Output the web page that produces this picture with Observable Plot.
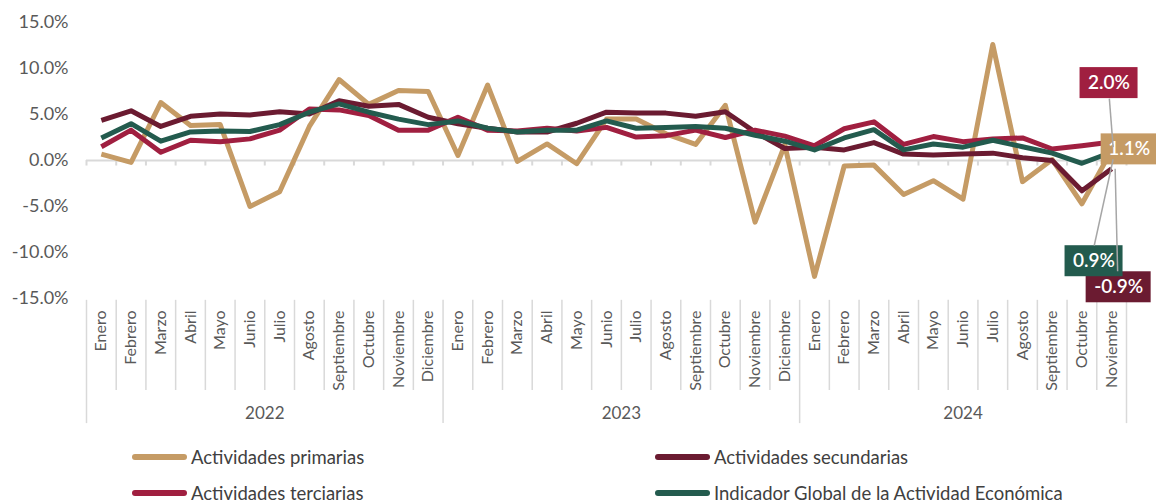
<!DOCTYPE html>
<html><head><meta charset="utf-8">
<script src="https://cdn.jsdelivr.net/npm/d3@7"></script>
<script src="https://cdn.jsdelivr.net/npm/@observablehq/plot@0.6"></script>
<style>
body{margin:0;background:#fff;font-family:Lato,sans-serif;}
#wrap{position:relative;width:1156px;height:502px;overflow:hidden;}
.leg{position:absolute;display:flex;align-items:center;font-size:18.5px;color:#404040;white-space:nowrap;height:24px;}
.leg .sw{display:inline-block;width:55px;height:6px;border-radius:3px;margin-right:4px;}
</style></head><body><div id="wrap"><div id="chart"></div><div id="legend"></div></div>
<script>
const monthNames = ["Enero","Febrero","Marzo","Abril","Mayo","Junio","Julio","Agosto","Septiembre","Octubre","Noviembre","Diciembre"];
const yearLabels = ["2022","2023","2024"];
const yearCounts = [12,12,11];
const yTicks = [-15,-10,-5,0,5,10,15];

const seriesNames = ["Actividades primarias","Actividades secundarias","Actividades terciarias","Indicador Global de la Actividad Económica"];
const seriesColors = ["#C59B65","#6B1B31","#A01F40","#235B4E"];

const primarias = [0.7,-0.2,6.3,3.8,3.9,-5.0,-3.4,3.7,8.8,6.1,7.6,7.5,
  0.55,8.2,-0.1,1.8,-0.35,4.5,4.5,2.9,1.75,6.0,-6.7,1.7,
  -12.6,-0.6,-0.5,-3.7,-2.2,-4.2,12.6,-2.3,0.1,-4.7,1.1];
const secundarias = [4.35,5.4,3.7,4.8,5.05,4.95,5.3,5.05,6.5,5.9,6.1,4.7,
  4.0,3.5,3.1,3.1,4.05,5.25,5.15,5.15,4.8,5.3,3.1,1.3,
  1.45,1.15,1.95,0.7,0.6,0.7,0.8,0.3,0.0,-3.3,-0.9];
const terciarias = [1.5,3.3,0.9,2.2,2.05,2.35,3.3,5.6,5.5,4.9,3.3,3.3,
  4.7,3.3,3.2,3.5,3.2,3.6,2.55,2.7,3.3,2.5,3.3,2.65,
  1.6,3.45,4.2,1.75,2.6,2.05,2.35,2.45,1.25,1.6,2.0];
const globalIGAE = [2.45,4.0,2.1,3.1,3.2,3.15,3.9,5.25,6.15,5.25,4.5,3.9,
  4.3,3.5,3.1,3.3,3.3,4.3,3.5,3.6,3.7,3.5,2.75,2.1,
  1.15,2.45,3.35,1.15,1.8,1.45,2.2,1.5,0.8,-0.3,0.9];
const seriesValues = [primarias, secundarias, terciarias, globalIGAE];

// month labels per year
const monthLabels = yearCounts.flatMap(n => monthNames.slice(0, n));
const N = monthLabels.length;

const W = 1156, H = 440, mL = 86, mR = 30, mT = 22, mB = 142;
const kx = (W - mL - mR) / N;       // px per month
const ky = (H - mT - mB) / 30;      // px per percentage point

const data = seriesNames.flatMap((s, k) => seriesValues[k].map((v, i) => ({serie: s, i, v})));
const idx = d3.range(N);
const bounds = d3.range(N + 1).map(i => i - 0.5);
let acc = 0;
const yearStarts = yearCounts.map(n => { const s = acc; acc += n; return s; });
const yearBounds = [...yearStarts.map(s => s - 0.5), N - 0.5];
const monthBounds = bounds.filter(b => !yearBounds.includes(b));
const years = yearLabels.map((y, j) => ({y, c: yearStarts[j] + (yearCounts[j] - 1) / 2}));

// label annotations (pixel offsets from last point): box center, box width, leader start/end
const annot = [
  {k:0, dx:17.5, dy:-1, w:56, leader:null},
  {k:1, dx:7, dy:118.5, w:65, leader:[3.5, 0, 6, 102.5]},
  {k:2, dx:-2.6, dy:-59, w:58, leader:[1.5, 5, -2.3, -43.5]},
  {k:3, dx:-17.6, dy:109, w:58, leader:[1.5, 7, -17.4, 93.3]}
];

const marks = [
  Plot.ruleY([0], {stroke:"#d9d9d9", strokeWidth:2}),
  Plot.ruleX(bounds, {y1:0, y2:-0.6, stroke:"#d9d9d9", strokeWidth:2}),
  Plot.ruleX(monthBounds, {y1:-15.2, y2:-25, stroke:"#d9d9d9", strokeWidth:1.5}),
  Plot.ruleX(yearBounds, {y1:-15.2, y2:-28.6, stroke:"#d9d9d9", strokeWidth:1.5}),
  Plot.axisY({ticks: yTicks, tickFormat: d => d.toFixed(1) + "%", tickSize:0, tickPadding:18, fontSize:18, fill:"#595959", label:null}),
  Plot.text(idx, {x: d => d, y: () => -16.3, text: d => monthLabels[d], rotate:-90, textAnchor:"end", fontSize:16, fill:"#595959"}),
  Plot.text(years, {x:"c", y: () => -27.5, text:"y", fontSize:17, fill:"#595959"}),
  Plot.line(data, {x:"i", y:"v", z:"serie", stroke:"serie", strokeWidth:5, strokeLinejoin:"round", strokeLinecap:"butt"})
];

const lastPts = annot.map(a => {
  const vals = seriesValues[a.k];
  return {...a, i: vals.length - 1, v: vals[vals.length - 1], label: vals[vals.length - 1].toFixed(1) + "%", serie: seriesNames[a.k]};
});
for (const p of lastPts) {
  marks.push(Plot.rect([p], {x1:"i", x2:"i", y1:"v", y2:"v", insetLeft:-p.w/2, insetRight:-p.w/2, insetTop:-15.5, insetBottom:-15.5, dx:p.dx, dy:p.dy, fill:"serie"}));
  marks.push(Plot.text([p], {x:"i", y:"v", text:"label", dx:p.dx, dy:p.dy, fill:"white", fontSize:19, fontWeight:600}));
}
for (const p of lastPts) {
  if (!p.leader) continue;
  const [x1, y1, x2, y2] = p.leader;
  marks.push(Plot.link([p], {x1: d => d.i + x1/kx, y1: d => d.v - y1/ky, x2: d => d.i + x2/kx, y2: d => d.v - y2/ky, stroke:"#a6a6a6", strokeWidth:1.5}));
}

const chart = Plot.plot({
  width: W, height: H,
  marginLeft: mL, marginRight: mR, marginTop: mT, marginBottom: mB,
  x: {type:"linear", domain:[-0.5, N - 0.5], axis:null},
  y: {domain:[-15, 15], axis:null},
  color: {domain: seriesNames, range: seriesColors},
  style: {fontFamily:"Lato, sans-serif", fontSize:"16px", color:"#595959", background:"white", overflow:"visible"},
  marks
});
document.getElementById("chart").appendChild(chart);

// legend
const legPos = [[132,445],[655,445],[132,481],[655,481]];
const leg = document.getElementById("legend");
seriesNames.forEach((s, k) => {
  const el = document.createElement("div");
  el.className = "leg";
  el.style.left = legPos[k][0] + "px";
  el.style.top = legPos[k][1] + "px";
  el.innerHTML = `<span class="sw" style="background:${seriesColors[k]}"></span>${s}`;
  leg.appendChild(el);
});
</script></body></html>
